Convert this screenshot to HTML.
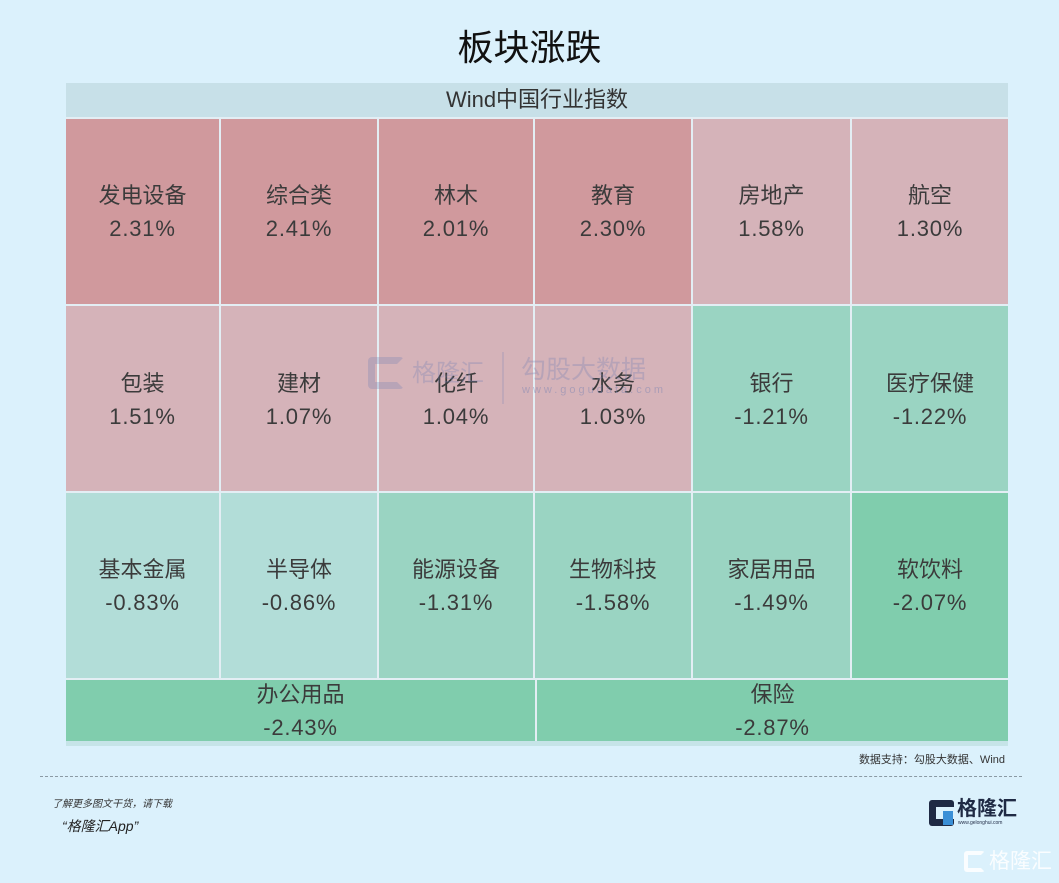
<!DOCTYPE html>
<html><head><meta charset="utf-8">
<style>
*{margin:0;padding:0;box-sizing:border-box}
body{width:1059px;height:883px;background:#dbf1fc;position:relative;overflow:hidden;font-family:"Liberation Sans","Noto Sans CJK SC",sans-serif}
.a{position:absolute}
.c{position:absolute;text-align:center;color:#3b3b3b;font-size:22px}
.c .n{position:absolute;left:0;right:0;line-height:30px}
.c .v{letter-spacing:0.8px}
.R{background:#d0999d}.P{background:#d5b3b9}.G{background:#9ad4c2}.L{background:#b2ddd8}.D{background:#80cdad}
</style></head><body>
<div class="a" style="left:0;top:21px;width:1059px;text-align:center;font-size:36px;color:#111;font-family:'Noto Sans CJK SC',sans-serif;line-height:48px">板块涨跌</div>
<div class="a" style="left:66px;top:83px;width:942px;height:663px;background:#e3eef4"></div>
<div class="a" style="left:66px;top:83px;width:942px;height:34px;background:#c7e0e8;text-align:center;font-size:22px;line-height:34px;color:#333">Wind中国行业指数</div>
<div class="a" style="left:66px;top:741px;width:942px;height:5px;background:#c6e4e8"></div>

<div class="c R" style="left:66px;top:119px;width:153px;height:185px"><div class="n" style="top:62px">发电设备</div><div class="n v" style="top:95px">2.31%</div></div>
<div class="c R" style="left:221px;top:119px;width:156px;height:185px"><div class="n" style="top:62px">综合类</div><div class="n v" style="top:95px">2.41%</div></div>
<div class="c R" style="left:379px;top:119px;width:154px;height:185px"><div class="n" style="top:62px">林木</div><div class="n v" style="top:95px">2.01%</div></div>
<div class="c R" style="left:535px;top:119px;width:156px;height:185px"><div class="n" style="top:62px">教育</div><div class="n v" style="top:95px">2.30%</div></div>
<div class="c P" style="left:693px;top:119px;width:157px;height:185px"><div class="n" style="top:62px">房地产</div><div class="n v" style="top:95px">1.58%</div></div>
<div class="c P" style="left:852px;top:119px;width:156px;height:185px"><div class="n" style="top:62px">航空</div><div class="n v" style="top:95px">1.30%</div></div>

<div class="c P" style="left:66px;top:306px;width:153px;height:185px"><div class="n" style="top:63px">包装</div><div class="n v" style="top:96px">1.51%</div></div>
<div class="c P" style="left:221px;top:306px;width:156px;height:185px"><div class="n" style="top:63px">建材</div><div class="n v" style="top:96px">1.07%</div></div>
<div class="c P" style="left:379px;top:306px;width:154px;height:185px"><div class="n" style="top:63px">化纤</div><div class="n v" style="top:96px">1.04%</div></div>
<div class="c P" style="left:535px;top:306px;width:156px;height:185px"><div class="n" style="top:63px">水务</div><div class="n v" style="top:96px">1.03%</div></div>
<div class="c G" style="left:693px;top:306px;width:157px;height:185px"><div class="n" style="top:63px">银行</div><div class="n v" style="top:96px">-1.21%</div></div>
<div class="c G" style="left:852px;top:306px;width:156px;height:185px"><div class="n" style="top:63px">医疗保健</div><div class="n v" style="top:96px">-1.22%</div></div>

<div class="c L" style="left:66px;top:493px;width:153px;height:185px"><div class="n" style="top:62px">基本金属</div><div class="n v" style="top:95px">-0.83%</div></div>
<div class="c L" style="left:221px;top:493px;width:156px;height:185px"><div class="n" style="top:62px">半导体</div><div class="n v" style="top:95px">-0.86%</div></div>
<div class="c G" style="left:379px;top:493px;width:154px;height:185px"><div class="n" style="top:62px">能源设备</div><div class="n v" style="top:95px">-1.31%</div></div>
<div class="c G" style="left:535px;top:493px;width:156px;height:185px"><div class="n" style="top:62px">生物科技</div><div class="n v" style="top:95px">-1.58%</div></div>
<div class="c G" style="left:693px;top:493px;width:157px;height:185px"><div class="n" style="top:62px">家居用品</div><div class="n v" style="top:95px">-1.49%</div></div>
<div class="c D" style="left:852px;top:493px;width:156px;height:185px"><div class="n" style="top:62px">软饮料</div><div class="n v" style="top:95px">-2.07%</div></div>

<div class="c D" style="left:66px;top:680px;width:469px;height:61px"><div class="n" style="top:0px">办公用品</div><div class="n v" style="top:33px">-2.43%</div></div>
<div class="c D" style="left:537px;top:680px;width:471px;height:61px"><div class="n" style="top:0px">保险</div><div class="n v" style="top:33px">-2.87%</div></div>

<!-- watermark -->
<div class="a" style="left:368px;top:357px;width:36px;height:32px;border:7px solid rgba(120,130,180,0.3);border-right-color:transparent;border-radius:4px"></div>
<div class="a" style="left:412px;top:358px;font-size:24px;color:rgba(120,130,180,0.32);line-height:32px">格隆汇</div>
<div class="a" style="left:502px;top:352px;width:2px;height:52px;background:rgba(120,130,180,0.22)"></div>
<div class="a" style="left:521px;top:354px;font-size:25px;color:rgba(120,130,180,0.32);line-height:32px">勾股大数据</div>
<div class="a" style="left:522px;top:384px;font-size:11px;letter-spacing:3px;color:rgba(120,130,180,0.45)">www.gogudata.com</div>

<div class="a" style="left:0;top:751px;width:1005px;text-align:right;font-size:11px;color:#333">数据支持：勾股大数据、Wind</div>
<div class="a" style="left:40px;top:776px;width:982px;border-top:1px dashed #8a9aa4"></div>
<div class="a" style="left:52px;top:795px;font-size:10px;font-style:italic;color:#333">了解更多图文干货，请下载</div>
<div class="a" style="left:62px;top:816px;font-size:14px;font-style:italic;color:#222">“格隆汇App”</div>

<div class="a" style="left:929px;top:800px;width:25px;height:26px;background:#1f2a44;border-radius:3px"></div>
<div class="a" style="left:936px;top:807px;width:18px;height:12px;background:#dbf1fc"></div>
<div class="a" style="left:943px;top:811px;width:10px;height:14px;background:#3a8fd6"></div>
<div class="a" style="left:957px;top:797px;font-size:20px;font-weight:bold;color:#1f2a44;line-height:24px">格隆汇</div>
<div class="a" style="left:958px;top:820px;font-size:5px;color:#1f2a44">www.gelonghui.com</div>

<div class="a" style="left:964px;top:851px;width:21px;height:21px;border:4px solid rgba(255,255,255,0.85);border-right-color:transparent;border-radius:3px"></div>
<div class="a" style="left:989px;top:848px;font-size:21px;color:rgba(255,255,255,0.85);line-height:27px">格隆汇</div>
</body></html>
